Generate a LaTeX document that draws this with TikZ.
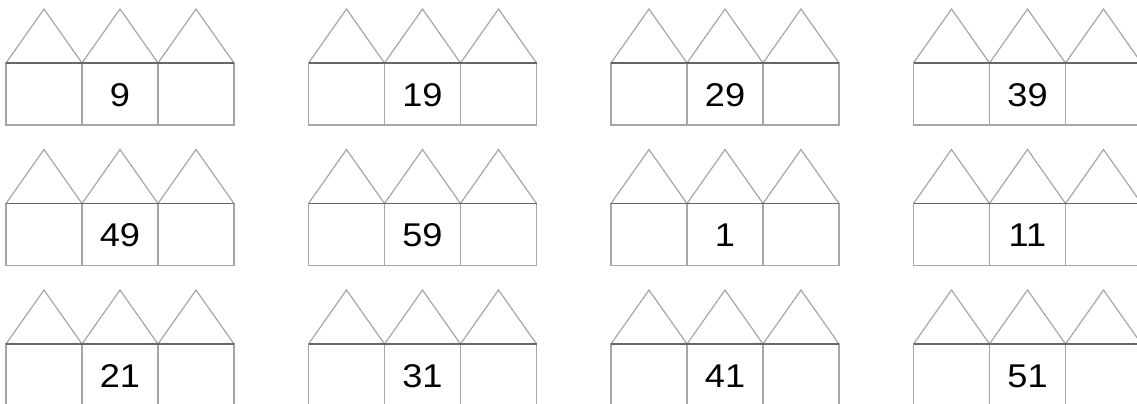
\documentclass[tikz,border=0pt]{standalone}
\usepackage{fontspec}
\usepackage{tikz}
\newfontfamily\numfont{Liberation Sans}
\usetikzlibrary{
  arrows.meta,
  calc
}
\tikzset{
  >=stealth,
  line cap=round,
  line join=round,
  wall/.style={draw=gray!70, line width=1.2bp},
  ridge/.style={draw=gray!80!black, line width=1.8bp},
  numlabel/.style={font=\numfont\fontsize{33}{36}\selectfont, text=black, xscale=1.1, inner sep=0pt},
  px/.style={x=1bp, y=-1bp}
}

\begin{document}
\begin{tikzpicture}[px]
  \useasboundingbox (0,0) rectangle (1137,403);
  \clip (0,0) rectangle (1137,403);

  % twelve little streets: 3 rows of 4
  \foreach \n [count=\i from 0] in {9,19,29,39,49,59,1,11,21,31,41,51}{
    \pgfmathtruncatemacro{\col}{mod(\i,4)}
    \pgfmathtruncatemacro{\row}{int(\i/4)}
    \begin{scope}[shift={(6+302.5*\col,63+140.5*\row)}]
      \draw[wall] (0,0) rectangle (76,62)
                  (76,0) rectangle (152,62)
                  (152,0) rectangle (228,62);
      \draw[wall] (0,0) -- (38,-54) -- (76,0) -- (114,-54)
                  -- (152,0) -- (190,-54) -- (228,0);
      \draw[ridge] (0,0) -- (228,0);
      \node[numlabel] (num\i) at (114,32) {\n};
    \end{scope}
  }
\end{tikzpicture}
\end{document}
